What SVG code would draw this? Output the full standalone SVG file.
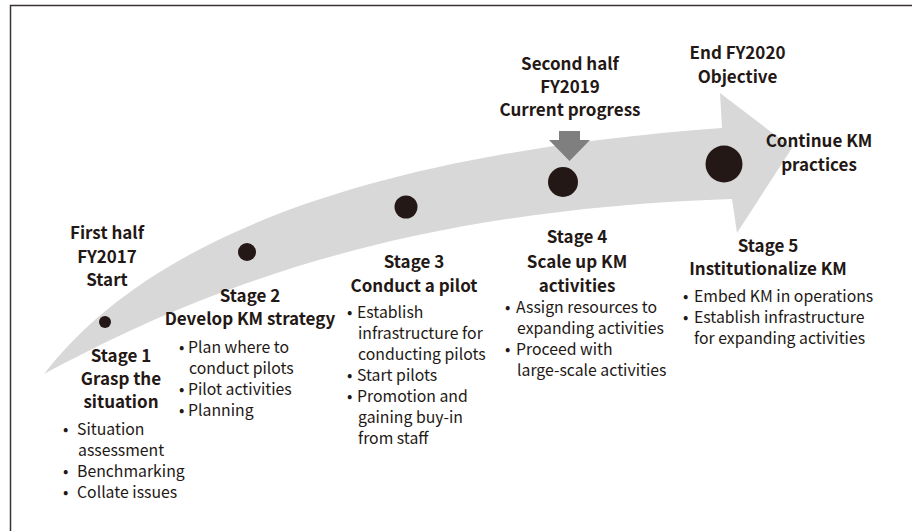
<svg xmlns="http://www.w3.org/2000/svg" width="912" height="531" viewBox="0 0 912 531">
<style>
  .h{font-family:"Noto Sans CJK JP","Noto Sans",sans-serif;font-weight:700;font-size:17px;fill:#231815;text-anchor:middle}
  .b{font-family:"Noto Sans CJK JP","Noto Sans",sans-serif;font-weight:400;font-size:15.8px;fill:#231815}
  .dot{fill:#231815}
  .band{fill:#d8d8d8}
  .pointer{fill:#7f7f7f}
</style>
<rect x="0" y="0" width="912" height="531" fill="#ffffff"/>
<path d="M10.5,531 V5.5 H912" fill="none" stroke="#3b3135" stroke-width="1.5"/>

<g id="connectors">
  <path class="band" d="M44,374 C140,250 340,156 722,128 L720,93 L792,148 L737,233 L732,199 C400,210 200,290 44,374 Z"/>
  <path class="pointer" d="M559,131 H580 V140 H590 L569.5,161 L549,140 H559 Z"/>
</g>

<g id="milestone-start">
  <text class="h" x="107" y="239">First half</text>
  <text class="h" x="107" y="263">FY2017</text>
  <text class="h" x="107" y="286">Start</text>
</g>
<g id="milestone-current">
  <text class="h" x="570" y="70">Second half</text>
  <text class="h" x="570" y="93">FY2019</text>
  <text class="h" x="570" y="116">Current progress</text>
</g>
<g id="milestone-objective">
  <text class="h" x="737.5" y="59">End FY2020</text>
  <text class="h" x="737.5" y="83">Objective</text>
  <text class="h" x="819" y="147">Continue KM</text>
  <text class="h" x="819" y="171">practices</text>
</g>

<g id="stage1">
  <circle class="dot" cx="105" cy="322" r="6"/>
  <text class="h" x="121" y="362">Stage 1</text>
  <text class="h" x="121" y="385">Grasp the</text>
  <text class="h" x="121" y="408">situation</text>
  <text class="b" x="63" y="435">•<tspan x="77">Situation</tspan></text>
  <text class="b" x="78" y="456">assessment</text>
  <text class="b" x="63" y="477">•<tspan x="77">Benchmarking</tspan></text>
  <text class="b" x="63" y="498">•<tspan x="77">Collate issues</tspan></text>
</g>

<g id="stage2">
  <circle class="dot" cx="247" cy="252" r="9"/>
  <text class="h" x="250" y="302">Stage 2</text>
  <text class="h" x="250" y="325">Develop KM strategy</text>
  <text class="b" x="179" y="353">•<tspan x="188">Plan where to</tspan></text>
  <text class="b" x="189" y="374">conduct pilots</text>
  <text class="b" x="179" y="395">•<tspan x="188">Pilot activities</tspan></text>
  <text class="b" x="179" y="416">•<tspan x="188">Planning</tspan></text>
</g>

<g id="stage3">
  <circle class="dot" cx="406" cy="207" r="11.5"/>
  <text class="h" x="414" y="268">Stage 3</text>
  <text class="h" x="414" y="292">Conduct a pilot</text>
  <text class="b" x="347" y="318">•<tspan x="357">Establish</tspan></text>
  <text class="b" x="358" y="339">infrastructure for</text>
  <text class="b" x="358" y="360">conducting pilots</text>
  <text class="b" x="347" y="381">•<tspan x="357">Start pilots</tspan></text>
  <text class="b" x="347" y="402">•<tspan x="357">Promotion and</tspan></text>
  <text class="b" x="358" y="423">gaining buy-in</text>
  <text class="b" x="358" y="444">from staff</text>
</g>

<g id="stage4">
  <circle class="dot" cx="563" cy="182" r="15"/>
  <text class="h" x="577" y="243">Stage 4</text>
  <text class="h" x="577" y="268">Scale up KM</text>
  <text class="h" x="577" y="292">activities</text>
  <text class="b" x="505" y="313">•<tspan x="516">Assign resources to</tspan></text>
  <text class="b" x="517" y="334">expanding activities</text>
  <text class="b" x="505" y="355">•<tspan x="516">Proceed with</tspan></text>
  <text class="b" x="517" y="376">large-scale activities</text>
</g>

<g id="stage5">
  <circle class="dot" cx="724" cy="164" r="18.5"/>
  <text class="h" x="768" y="252">Stage 5</text>
  <text class="h" x="768" y="275">Institutionalize KM</text>
  <text class="b" x="683" y="302">•<tspan x="694">Embed KM in operations</tspan></text>
  <text class="b" x="683" y="323">•<tspan x="694">Establish infrastructure</tspan></text>
  <text class="b" x="694" y="344">for expanding activities</text>
</g>
</svg>
